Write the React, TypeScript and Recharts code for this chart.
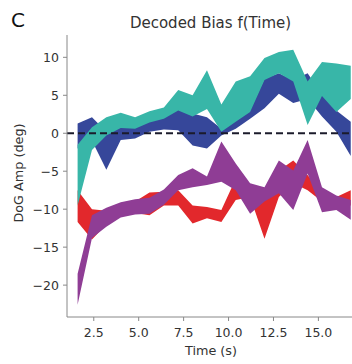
import { Area, ComposedChart, ReferenceLine, XAxis, YAxis } from 'recharts';

const times = [1.6, 2.4, 3.2, 4.0, 4.8, 5.6, 6.4, 7.2, 8.0, 8.8, 9.6, 10.4, 11.2, 12.0, 12.8, 13.6, 14.4, 15.2, 16.0, 16.8];

const redLow = [-11.7, -14.0, -12.0, -11.0, -10.5, -10.8, -9.5, -9.5, -11.9, -11.2, -11.7, -8.8, -8.4, -13.9, -8.4, -6.6, -7.5, -9.0, -9.5, -9.5];
const redHigh = [-7.5, -10.0, -10.2, -9.4, -9.0, -7.8, -7.7, -7.5, -9.5, -9.7, -10.1, -6.0, -6.8, -8.8, -4.9, -3.6, -5.5, -8.0, -8.4, -7.5];

const purpleLow = [-22.6, -13.8, -12.3, -11.1, -10.7, -10.6, -9.4, -7.5, -7.1, -6.8, -6.4, -7.5, -10.6, -9.0, -7.9, -10.1, -5.3, -10.4, -10.1, -11.4];
const purpleHigh = [-18.5, -10.8, -9.8, -9.1, -8.7, -8.5, -7.4, -5.5, -4.6, -5.7, -1.1, -4.0, -6.6, -7.1, -3.6, -4.9, -0.9, -7.1, -8.2, -8.8];

const blueLow = [-2.0, -1.0, -4.8, -0.9, -0.7, 0.2, 0.5, 0.4, -1.6, -2.0, -0.3, 0.6, 1.9, 3.3, 5.2, 4.0, 4.5, 2.2, 0.2, -3.0];
const blueHigh = [1.3, 2.1, 0.2, 1.0, 0.9, 1.7, 2.2, 3.2, 2.6, 2.1, 0.6, 1.9, 3.1, 7.2, 7.9, 7.0, 7.9, 5.1, 3.0, 1.5];

const tealLow = [-9.5, -2.2, -0.3, 0.7, 0.6, 1.4, 1.9, 3.0, 2.2, 3.2, 0.2, 1.5, 2.8, 7.0, 7.9, 6.8, 1.1, 4.9, 2.8, 4.5];
const tealHigh = [-1.5, 0.8, 2.1, 2.7, 2.1, 2.9, 3.4, 5.7, 5.0, 8.3, 3.8, 6.8, 7.5, 9.9, 10.7, 11.0, 6.8, 9.4, 9.2, 8.9];

const xTicks = [2.5, 5.0, 7.5, 10.0, 12.5, 15.0];
const yTicks = [10, 5, 0, -5, -10, -15, -20];

const font = '"DejaVu Sans", sans-serif';

const rows = times.map((t, i) => ({
  t,
  red: [redLow[i], redHigh[i]],
  purple: [purpleLow[i], purpleHigh[i]],
  blue: [blueLow[i], blueHigh[i]],
  teal: [tealLow[i], tealHigh[i]],
}));

const bands = [
  { key: 'red', fill: '#e2282c' },
  { key: 'purple', fill: '#8f3d95' },
  { key: 'blue', fill: '#36479a' },
  { key: 'teal', fill: '#38b6a8' },
];

function yLabel(v: number) {
  return v < 0 ? '\u2212' + Math.abs(v) : String(v);
}

export default function App() {
  return (
    <div style={{ position: 'absolute', left: 0, top: 0, width: 352, height: 364, background: '#fff' }}>
      <ComposedChart width={352} height={364} data={rows} margin={{ top: 35, right: 0, left: 0, bottom: 0 }}>
        <XAxis
          type="number"
          dataKey="t"
          domain={[1.01, 16.87]}
          allowDataOverflow
          ticks={xTicks}
          tickFormatter={(v: number) => v.toFixed(1)}
          height={47}
          tickSize={4}
          tickMargin={7}
          stroke="#888"
          tick={{ fill: '#333', fontSize: 12.5, fontFamily: font }}
        />
        <YAxis
          type="number"
          domain={[-24.2, 12.94]}
          allowDataOverflow
          ticks={yTicks}
          tickFormatter={yLabel}
          width={67}
          tickSize={4}
          tickMargin={4}
          stroke="#888"
          tick={{ fill: '#333', fontSize: 12.5, fontFamily: font }}
        />
        {bands.map((b) => (
          <Area
            key={b.key}
            type="linear"
            dataKey={b.key}
            stroke="none"
            fill={b.fill}
            fillOpacity={1}
            dot={false}
            activeDot={false}
            isAnimationActive={false}
          />
        ))}
        <ReferenceLine y={0} stroke="#1b1b2b" strokeWidth={1.8} strokeDasharray="7 4" />
      </ComposedChart>
      <svg width={352} height={364} style={{ position: 'absolute', left: 0, top: 0, pointerEvents: 'none' }}>
        <text x={11} y={27} fontSize={20} fontFamily={font} fill="#111">C</text>
        <text x={210.5} y={27.5} fontSize={15} fontFamily={font} fill="#333" textAnchor="middle">
          Decoded Bias f(Time)
        </text>
        <text x={211} y={355} fontSize={12.8} fontFamily={font} fill="#333" textAnchor="middle">
          Time (s)
        </text>
        <text x={22.5} y={173} fontSize={12.8} fontFamily={font} fill="#333" textAnchor="middle" transform="rotate(-90 22.5 173)">
          DoG Amp (deg)
        </text>
      </svg>
    </div>
  );
}
